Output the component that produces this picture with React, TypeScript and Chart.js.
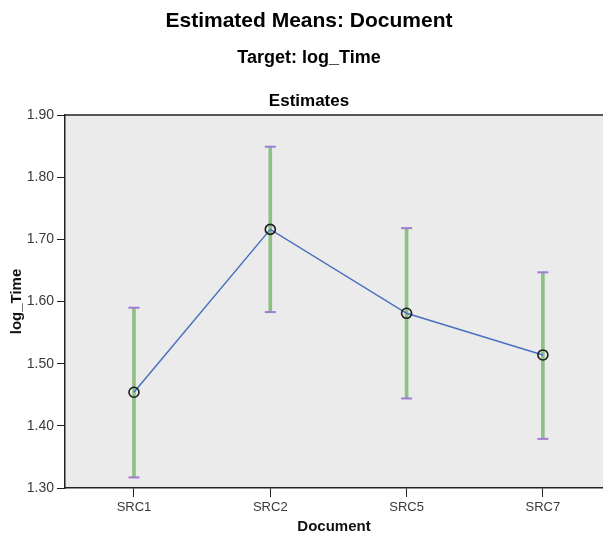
import React, { useEffect, useRef } from "react";
import { Chart, registerables } from "chart.js";

Chart.register(...registerables);

const categories = ["SRC1", "SRC2", "SRC5", "SRC7"];
const means = [1.454, 1.716, 1.581, 1.514];
const upperCI = [1.590, 1.849, 1.718, 1.647];
const lowerCI = [1.317, 1.583, 1.444, 1.379];
const yMin = 1.3;
const yMax = 1.9;
const yStep = 0.1;

const FONT = "'Liberation Sans', Arial, sans-serif";

const bgPlugin = {
  id: "plotBg",
  beforeDraw(chart: any) {
    const { ctx, chartArea } = chart;
    const { left, top, right, bottom } = chartArea;
    ctx.save();
    ctx.fillStyle = "#EBEBEB";
    ctx.fillRect(left, top, right - left, bottom - top);
    ctx.strokeStyle = "#222";
    ctx.lineWidth = 1.5;
    ctx.beginPath();
    ctx.moveTo(left, top);
    ctx.lineTo(right, top);
    ctx.stroke();
    ctx.restore();
  },
};

export default function App() {
  const ref = useRef<HTMLCanvasElement | null>(null);

  useEffect(() => {
    if (!ref.current) return;
    const idx = categories.map((_, i) => i);
    const chart = new Chart(ref.current, {
      type: "bar",
      data: {
        datasets: [
          {
            type: "line",
            label: "Mean",
            data: idx.map((i) => ({ x: i, y: means[i] })),
            borderColor: "#4A70C0",
            borderWidth: 1.5,
            pointRadius: 5,
            pointBorderWidth: 1.6,
            pointBorderColor: "#1a1a1a",
            pointBackgroundColor: "rgba(0,0,0,0)",
            pointStyle: "circle",
            order: 0,
          } as any,
          {
            type: "scatter",
            label: "Upper",
            data: idx.map((i) => ({ x: i, y: upperCI[i] })),
            pointStyle: "line",
            pointRadius: 5.5,
            pointBorderWidth: 2,
            pointBorderColor: "#A27BD4",
            borderColor: "#A27BD4",
            order: 1,
          } as any,
          {
            type: "scatter",
            label: "Lower",
            data: idx.map((i) => ({ x: i, y: lowerCI[i] })),
            pointStyle: "line",
            pointRadius: 5.5,
            pointBorderWidth: 2,
            pointBorderColor: "#A27BD4",
            borderColor: "#A27BD4",
            order: 1,
          } as any,
          {
            type: "bar",
            label: "CI",
            data: idx.map((i) => ({ x: i, y: [lowerCI[i], upperCI[i]] })),
            backgroundColor: "#8CC183",
            borderWidth: 0,
            barThickness: 3,
            grouped: false,
            order: 2,
          } as any,
        ],
      },
      options: {
        animation: false,
        responsive: false,
        devicePixelRatio: 1,
        layout: { autoPadding: false, padding: { top: 115, left: 0, right: 0, bottom: 0 } },
        plugins: {
          legend: { display: false },
          tooltip: { enabled: false },
          title: { display: false },
        },
        scales: {
          x: {
            type: "linear",
            min: -0.506,
            max: 3.441,
            offset: false,
            afterBuildTicks: (s: any) => {
              s.ticks = categories.map((_, i) => ({ value: i }));
            },
            afterFit: (s: any) => {
              s.height = 50;
              s.paddingLeft = 0;
              s.paddingRight = 0;
            },
            grid: {
              display: true,
              drawOnChartArea: false,
              drawTicks: true,
              tickLength: 9,
              color: "#222",
              offset: false,
            },
            border: { display: true, color: "#222", width: 1.5 },
            ticks: {
              autoSkip: false,
              maxRotation: 0,
              padding: 3,
              color: "#3a3a3a",
              font: { family: FONT, size: 13 },
              callback: (v: any) => categories[Math.round(Number(v))] ?? "",
            },
            title: {
              display: true,
              text: "Document",
              color: "#111",
              font: { family: FONT, size: 15, weight: "bold" },
              padding: { top: 0, bottom: 2 },
            },
          },
          y: {
            type: "linear",
            min: yMin,
            max: yMax,
            afterFit: (s: any) => {
              s.width = 65;
              s.paddingTop = 0;
              s.paddingBottom = 0;
            },
            grid: {
              display: true,
              drawOnChartArea: false,
              drawTicks: true,
              tickLength: 8,
              color: "#222",
            },
            border: { display: true, color: "#222", width: 1.5 },
            ticks: {
              stepSize: yStep,
              padding: 3,
              color: "#3a3a3a",
              font: { family: FONT, size: 14 },
              callback: (v: any) => Number(v).toFixed(2),
            },
            title: {
              display: true,
              text: "log_Time",
              color: "#111",
              font: { family: FONT, size: 15, weight: "bold" },
              padding: { top: 8, bottom: 0 },
            },
          },
        },
      },
      plugins: [bgPlugin],
    });
    return () => chart.destroy();
  }, []);

  const titleBase: React.CSSProperties = {
    position: "absolute",
    left: 309,
    transform: "translateX(-50%)",
    whiteSpace: "nowrap",
    fontFamily: FONT,
    fontWeight: "bold",
    color: "#000",
    margin: 0,
  };

  return (
    <div
      style={{
        position: "fixed",
        left: 0,
        top: 0,
        width: 603,
        height: 538,
        background: "#fff",
        overflow: "hidden",
      }}
    >
      <canvas
        ref={ref}
        width={603}
        height={538}
        style={{ position: "absolute", left: 0, top: 0, width: 603, height: 538, display: "block" }}
      />
      <div style={{ ...titleBase, top: 9, fontSize: 21, lineHeight: "21px" }}>
        Estimated Means: Document
      </div>
      <div style={{ ...titleBase, top: 48, fontSize: 18, lineHeight: "18px" }}>
        Target: log_Time
      </div>
      <div style={{ ...titleBase, top: 92, fontSize: 17, lineHeight: "17px" }}>
        Estimates
      </div>
    </div>
  );
}
